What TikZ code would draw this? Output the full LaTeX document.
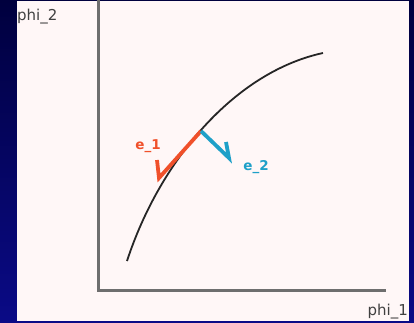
\documentclass[tikz,border=0pt]{standalone}
\usepackage{fontspec}
\setmainfont{DejaVu Sans}
\usetikzlibrary{positioning}
\definecolor{deepnavy}{HTML}{00003E}
\definecolor{slideblue}{HTML}{0A0A86}
\definecolor{paper}{HTML}{FFF7F7}
\definecolor{axisgray}{HTML}{6E6E6E}
\definecolor{vecorange}{HTML}{F0502A}
\definecolor{veccyan}{HTML}{1EA0C8}
\tikzset{
  axisline/.style={axisgray,line width=3pt,line cap=rect},
  vecline/.style={line width=3.8pt,line join=miter},
  axislab/.style={font=\fontsize{15}{16}\selectfont,color=black!75,inner sep=0pt},
  veclab/.style={font=\bfseries\fontsize{13.5}{14}\selectfont,inner sep=0pt}
}
\begin{document}
\begin{tikzpicture}[x=1pt,y=-1pt]
      \useasboundingbox (0,0) rectangle (414,322);
      % slide background + white panel
      \shade[top color=deepnavy,bottom color=slideblue] (0,0) rectangle (414,322);
      \fill[paper] (17,1) rectangle (409,321);
      % axes
      \coordinate (ytop) at (98,0);
      \coordinate (orig) at (98,290);
      \coordinate (xend) at (384,290);
      \draw[axisline] (ytop) -- (orig) -- (xend);
      \node[axislab,anchor=west] (phitwo) at (17,17) {phi\_2};
      \node[axislab,anchor=east] (phione) at (408,312) {phi\_1};
      % the curve
      \coordinate (cstart) at (127,261);
      \coordinate (cend) at (323,53);
      \draw[black!85,line width=1.8pt]
        (cstart) .. controls (160,160) and (235,72) .. (cend);
      % tangent / normal vectors (one barb each)
      \coordinate (foot) at (201,131);
      \coordinate (tipone) at (159,178);
      \coordinate (barbone) at (157,160);
      \coordinate (tiptwo) at (229,158);
      \coordinate (barbtwo) at (226,142);
      \draw[vecline,vecorange] (foot) -- (tipone) -- (barbone);
      \draw[vecline,veccyan] (foot) -- (tiptwo) -- (barbtwo);
      \node[veclab,color=vecorange] (eone) at (148,146) {e\_1};
      \node[veclab,color=veccyan] (etwo) at (256,167) {e\_2};
    \end{tikzpicture}
\end{document}
